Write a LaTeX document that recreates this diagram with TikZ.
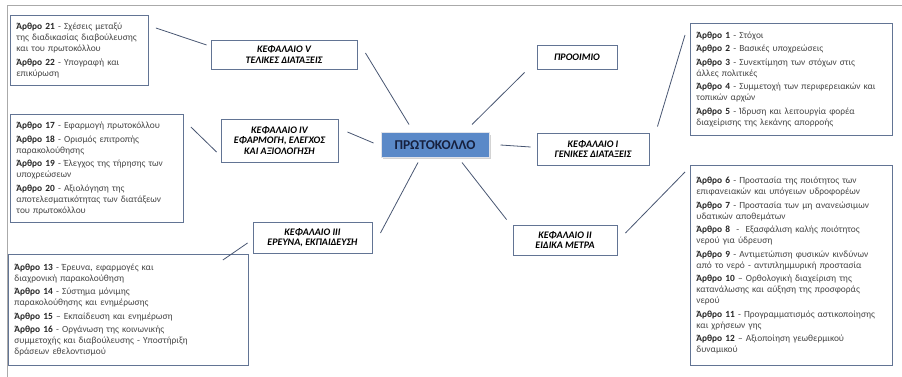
\documentclass[tikz,border=0pt]{standalone}
\usepackage{fontspec}
\setmainfont{Carlito}
\usetikzlibrary{shadows}

\definecolor{boxline}{RGB}{98,116,148}
\definecolor{linkline}{RGB}{72,86,114}
\definecolor{framegray}{RGB}{170,170,170}
\definecolor{centrefill}{RGB}{90,137,200}
\definecolor{centretext}{RGB}{22,32,62}
\definecolor{arttext}{RGB}{70,70,70}

\newcommand{\arthro}[1]{\textcolor{black!85}{\textbf{Άρθρο #1}}}

\begin{document}
\begin{tikzpicture}[x=1pt, y=-1pt,
	artbox/.style={draw=boxline, line width=0.9pt, fill=white, anchor=north west, align=left,
		inner xsep=6pt, inner ysep=4pt, text=arttext, font=\fontsize{9.4}{11}\selectfont,
		drop shadow={shadow xshift=1pt, shadow yshift=-1pt, opacity=0.25}},
	chapbox/.style={draw=boxline, line width=0.9pt, fill=white, align=center, inner sep=0pt,
		font=\fontsize{10}{10.6}\selectfont\bfseries\itshape,
		drop shadow={shadow xshift=1pt, shadow yshift=-1pt, opacity=0.25}},
	link/.style={draw=linkline, line width=0.8pt}]

	\useasboundingbox (0,0) rectangle (902,377);
	
	% Frame
	\draw[framegray, line width=0.8pt] (7,377) -- (7,5) -- (902,5);
	
	% Nodes
	\node[draw=white!80!boxline, line width=1pt, fill=centrefill, minimum width=108pt, minimum height=24pt,
		inner sep=0pt, text=centretext, font=\fontsize{13.5}{15}\selectfont\bfseries,
		drop shadow={shadow xshift=2pt, shadow yshift=-2pt, opacity=0.35}] (proto) at (435,145) {ΠΡΩΤΟΚΟΛΛΟ};
	
	\node[chapbox, minimum width=146pt, minimum height=29pt] (chV) at (284,54.5) {ΚΕΦΑΛΑΙΟ V\\ ΤΕΛΙΚΕΣ ΔΙΑΤΑΞΕΙΣ};
	\node[chapbox, minimum width=117pt, minimum height=43pt] (chIV) at (279.5,140.5) {ΚΕΦΑΛΑΙΟ IV\\ ΕΦΑΡΜΟΓΗ, ΕΛΕΓΧΟΣ\\ ΚΑΙ ΑΞΙΟΛΟΓΗΣΗ};
	\node[chapbox, minimum width=119pt, minimum height=31pt] (chIII) at (312.5,237.5) {ΚΕΦΑΛΑΙΟ III\\ ΕΡΕΥΝΑ, ΕΚΠΑΙΔΕΥΣΗ};
	\node[chapbox, minimum width=80pt, minimum height=24pt] (preamble) at (577,57) {ΠΡΟΟΙΜΙΟ};
	\node[chapbox, minimum width=112pt, minimum height=32pt] (chI) at (593,149) {ΚΕΦΑΛΑΙΟ I\\ ΓΕΝΙΚΕΣ ΔΙΑΤΑΞΕΙΣ};
	\node[chapbox, minimum width=104pt, minimum height=30pt] (chII) at (565,240) {ΚΕΦΑΛΑΙΟ II\\ ΕΙΔΙΚΑ ΜΕΤΡΑ};
	
	\node[artbox, text width=126pt, minimum height=70pt] (art21) at (10,15) {
		\arthro{21} - Σχέσεις μεταξύ\\ της διαδικασίας διαβούλευσης\\ και του πρωτοκόλλου\\[2.5pt]
		\arthro{22} - Υπογραφή και\\ επικύρωση};
	
	\node[artbox, text width=161pt, minimum height=108pt] (art17) at (10,114) {
		\arthro{17} - Εφαρμογή πρωτοκόλλου\\[2.5pt]
		\arthro{18} - Ορισμός επιτροπής\\ παρακολούθησης\\[2.5pt]
		\arthro{19} - Έλεγχος της τήρησης των\\ υποχρεώσεων\\[2.5pt]
		\arthro{20} - Αξιολόγηση της\\ αποτελεσματικότητας των διατάξεων\\ του πρωτοκόλλου};
	
	\node[artbox, text width=228pt, minimum height=111pt] (art13) at (8,254) {
		\arthro{13} - Έρευνα, εφαρμογές και\\ διαχρονική παρακολούθηση\\[2.5pt]
		\arthro{14} - Σύστημα μόνιμης\\ παρακολούθησης και ενημέρωσης\\[2.5pt]
		\arthro{15} – Εκπαίδευση και ενημέρωση\\[2.5pt]
		\arthro{16} - Οργάνωση της κοινωνικής\\ συμμετοχής και διαβούλευσης - Υποστήριξη\\ δράσεων εθελοντισμού};
	
	\node[artbox, text width=190pt, minimum height=112pt] (art1) at (690,23) {
		\arthro{1} - Στόχοι\\[2.5pt]
		\arthro{2} - Βασικές υποχρεώσεις\\[2.5pt]
		\arthro{3} - Συνεκτίμηση των στόχων στις\\ άλλες πολιτικές\\[2.5pt]
		\arthro{4} - Συμμετοχή των περιφερειακών και\\ τοπικών αρχών\\[2.5pt]
		\arthro{5} - Ίδρυση και λειτουργία φορέα\\ διαχείρισης της λεκάνης απορροής};
	
	\node[artbox, text width=190pt, minimum height=200pt] (art6) at (690,165) {
		\arthro{6} - Προστασία της ποιότητος των\\ επιφανειακών και υπόγειων υδροφορέων\\[2.5pt]
		\arthro{7} - Προστασία των μη ανανεώσιμων\\ υδατικών αποθεμάτων\\[2.5pt]
		\arthro{8} \ - \ Εξασφάλιση καλής ποιότητος\\ νερού για ύδρευση\\[2.5pt]
		\arthro{9} - Αντιμετώπιση φυσικών κινδύνων\\ από το νερό - αντιπλημμυρική προστασία\\[2.5pt]
		\arthro{10} – Ορθολογική διαχείριση της\\ κατανάλωσης και αύξηση της προσφοράς\\ νερού\\[2.5pt]
		\arthro{11} - Προγραμματισμός αστικοποίησης\\ και χρήσεων γης\\[2.5pt]
		\arthro{12} – Αξιοποίηση γεωθερμικού\\ δυναμικού};
	
	% Lines
	\draw[link] ([shift={(7,13)}]art21.north east) -- ([shift={(-4,-9.5)}]chV.west);
	\draw[link] ([shift={(8,-1.5)}]chV.east) -- ([shift={(-26,-8)}]proto.north);
	\draw[link] ([shift={(7,13)}]art17.north east) -- ([shift={(-4,11.5)}]chIV.west);
	\draw[link] ([shift={(9,-8.5)}]chIV.east) -- ([shift={(-7,-2)}]proto.west);
	\draw[link] ([shift={(37,-8)}]proto.north) -- ([shift={(-12,3)}]preamble.south west);
	\draw[link] ([shift={(11,0)}]proto.east) -- ([shift={(-6,-2)}]chI.west);
	\draw[link] ([shift={(8,-6)}]chI.north east) -- ([shift={(-5,12)}]art1.north west);
	\draw[link] ([shift={(-17,5)}]proto.south) -- ([shift={(8,-4.5)}]chIII.east);
	\draw[link] ([shift={(-5,5.5)}]chIII.west) -- ([shift={(-26,6)}]art13.north east);
	\draw[link] ([shift={(27,5)}]proto.south) -- ([shift={(-6,-5)}]chII.north west);
	\draw[link] ([shift={(8,-7)}]chII.east) -- ([shift={(-5,7)}]art6.north west);
	
\end{tikzpicture}
\end{document}
